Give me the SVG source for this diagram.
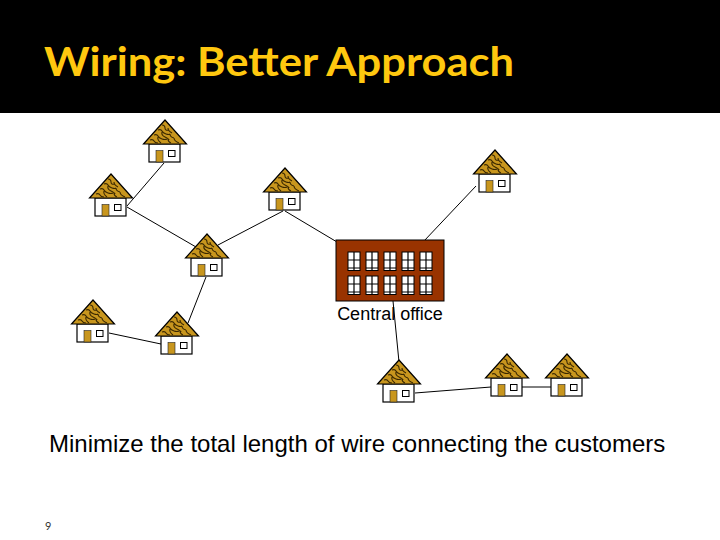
<svg xmlns="http://www.w3.org/2000/svg" width="720" height="540" viewBox="0 0 720 540">
<style>
.wire{fill:none;stroke:#000;stroke-width:1}
.roof{fill:#c8961e;stroke:#000;stroke-width:1.2}
.scale{fill:none;stroke:#3a2800;stroke-width:1.1}
.body{fill:#fff;stroke:#000;stroke-width:1.2}
.door{fill:#c8961e;stroke:#222;stroke-width:.6}
.win{fill:#fff;stroke:#000;stroke-width:1}
.label{font-family:"Liberation Sans",Arial,sans-serif;fill:#000}
.pane{fill:#fff;stroke:#000;stroke-width:1}
.bar{fill:none;stroke:#000;stroke-width:1.2}
</style>
<defs>
<g id="house">
<rect class="body" x="-16" y="24" width="31" height="18"/>
<rect class="door" x="-9" y="30.500" width="7" height="11.500"/>
<rect class="win" x="3.500" y="30.500" width="6.500" height="6"/>
<path class="roof" d="M0 0L21.500 24H-21.500Z"/>
<path class="scale" d="M-3 5q3 0 3 3t4 2M-7 10q3-1 4 1t4 3t4 0M3 8q0 3 4 5M-11 15q3-1 4 1t4 3t5 0M-3 12q-1 3 3 5t4 3M5 14q0 3 4 4M-15 20q3-1 4 1t4 2M-7 17q-1 3 3 6M3 19q0 3 3 4M9 18q0 3 5 5"/>
</g>
<g id="win">
<rect class="pane" x="0" y="0" width="12" height="18.500"/>
<path class="bar" d="M6 0V18.500M0 8H12M0 16H12"/>
</g>
</defs>
<rect x="0" y="0" width="720" height="540" fill="#fff"/>
<rect x="0" y="0" width="720" height="113" fill="#000"/>
<text x="44" y="76" font-family="Lato,'Open Sans',sans-serif" font-weight="700" font-size="41" fill="#ffc80f" textLength="470" lengthAdjust="spacingAndGlyphs">Wiring: Better Approach</text>
<g id="connectors">
<path class="wire" d="M164 163L127 206"/>
<path class="wire" d="M127 207L196 247"/>
<path class="wire" d="M283 211L218 245"/>
<path class="wire" d="M285 211L337 242"/>
<path class="wire" d="M476 186L424 241"/>
<path class="wire" d="M206 277L188 323"/>
<path class="wire" d="M109 333L161 344"/>
<path class="wire" d="M393 301L399 362"/>
<path class="wire" d="M415 393L491 387"/>
<path class="wire" d="M522 387H552"/>
</g>
<g id="house1"><use href="#house" x="165" y="120"/></g>
<g id="house2"><use href="#house" x="111" y="174"/></g>
<g id="house3"><use href="#house" x="285" y="168"/></g>
<g id="house4"><use href="#house" x="495" y="150"/></g>
<g id="house5"><use href="#house" x="207" y="234"/></g>
<g id="house6"><use href="#house" x="93" y="300"/></g>
<g id="house7"><use href="#house" x="177" y="312"/></g>
<g id="house8"><use href="#house" x="399" y="360"/></g>
<g id="house9"><use href="#house" x="507" y="354"/></g>
<g id="house10"><use href="#house" x="567" y="354"/></g>
<g id="central-office">
<rect x="336" y="240" width="108" height="61" fill="#993300" stroke="#000" stroke-width="1"/>
<use href="#win" x="348" y="252"/><use href="#win" x="366" y="252"/><use href="#win" x="384" y="252"/><use href="#win" x="402" y="252"/><use href="#win" x="420" y="252"/>
<use href="#win" x="348" y="276"/><use href="#win" x="366" y="276"/><use href="#win" x="384" y="276"/><use href="#win" x="402" y="276"/><use href="#win" x="420" y="276"/>
<text class="label" x="390" y="320" font-size="18" text-anchor="middle">Central office</text>
</g>
<text class="label" x="49" y="452" font-size="24">Minimize the total length of wire connecting the customers</text>
<text x="45" y="530" font-family="Lato,'Open Sans',sans-serif" font-size="11" fill="#333">9</text>
</svg>
